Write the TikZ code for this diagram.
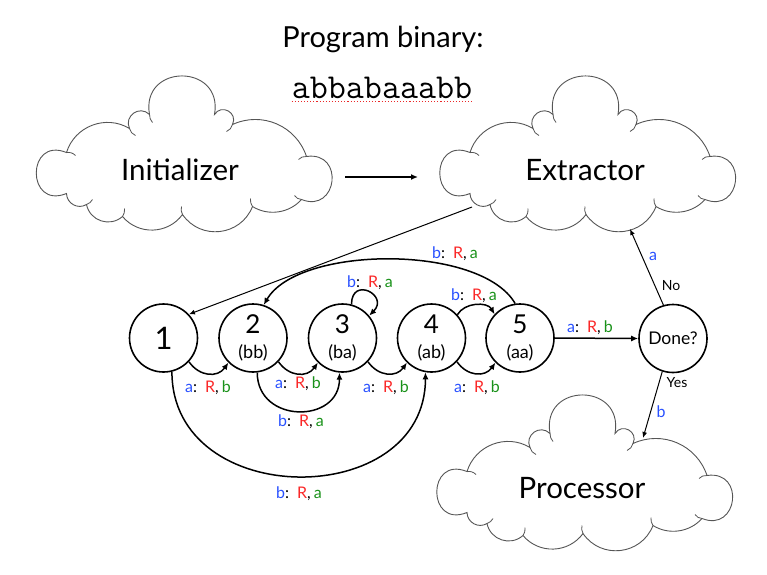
\documentclass[tikz,border=0pt]{standalone}
\usepackage{fontspec}
\setmainfont{Lato}
\usetikzlibrary{arrows.meta}
\definecolor{cb}{RGB}{40,80,255}
\definecolor{cr}{RGB}{250,40,40}
\definecolor{cg}{RGB}{25,145,25}
\definecolor{cloudgray}{RGB}{85,85,85}
\definecolor{spellred}{RGB}{235,40,40}
\newcommand{\trlab}[2]{\textcolor{cb}{#1}:\hspace{0.5em}\textcolor{cr}{R},\hspace{0.2em}\textcolor{cg}{#2}}
\tikzset{
 cloudline/.style={draw=cloudgray, line width=0.9pt, fill=white},
 cloudhook/.style={draw=cloudgray, line width=0.8pt},
 cloudpic/.pic={
  \draw[cloudline] (-115,-4) to[bend left=52,looseness=1.05] (-52,-28)
   to[bend left=80,looseness=1.45] (-32,-42)
   to[bend left=100,looseness=2.06] (33,-42)
   to[bend left=87,looseness=1.62] (51,-32)
   to[bend left=48,looseness=1.03] (125,0)
   to[bend left=105,looseness=2.3] (120,43)
   to[bend left=40,looseness=0.96] (71,50)
   to[bend left=62,looseness=1.16] (1,58)
   to[bend left=52,looseness=1.05] (-59,60)
   to[bend left=60,looseness=1.13] (-95,48)
   to[bend left=60,looseness=1.13] (-115,37)
   to[bend left=112,looseness=2.72] (-115,-4) -- cycle;
  \draw[cloudhook] (-115,-4) to[bend left=25] (-106,-1);
  \draw[cloudhook] (-52,-28) to[bend right=25] (-46,-21);
  \draw[cloudhook] (-32,-42) to[bend right=20] (-29,-34);
  \draw[cloudhook] (51,-32) to[bend left=25] (45,-25);
  \draw[cloudhook] (125,0) to[bend right=25] (117,3);
  \draw[cloudhook] (120,43) to[bend left=25] (113,39);
  \draw[cloudhook] (71,50) to[bend left=20] (69,42);
  \draw[cloudhook] (1,58) to[bend left=20] (0,50);
  \draw[cloudhook] (-59,60) to[bend right=20] (-57,52);
  \draw[cloudhook] (-95,48) to[bend right=20] (-89,43);
 },
 cloudbox/.style={inner sep=0pt, minimum width=300pt, minimum height=157pt},
 cloudtext/.style={font=\fontsize{29.5}{32}\selectfont, inner sep=0pt, anchor=base},
 state/.style={circle, draw, line width=1.6pt, minimum size=68pt, inner sep=0pt, align=center, font=\fontsize{18}{25}\selectfont},
 lbl/.style={font=\fontsize{16}{18}\selectfont, inner sep=1pt},
 tr/.style={-{Latex[length=7pt,width=6pt]}, line width=1.5pt},
 thinarrow/.style={-{Latex[length=6pt,width=5pt]}, line width=1pt},
}
\begin{document}
\begin{tikzpicture}[x=1pt,y=-1pt]
\useasboundingbox (0,0) rectangle (767,574);
% title
\node[font=\fontsize{29}{32}\selectfont, inner sep=0pt, anchor=base] (title) at (383,47) {Program binary:};
\node[font=\ttfamily\fontsize{35}{36}\selectfont, inner sep=0pt, anchor=base] (bin) at (382,98) {abbabaaabb};
\draw[spellred, dotted, line width=1.1pt] ([yshift=-3.5pt]bin.base west) -- ([yshift=-3.5pt]bin.base east);
% clouds
\node[cloudbox] (ini) at (181.5,156.5) {};
\pic at (181.5,156.5) {cloudpic};
\node[cloudtext] (initxt) at (180,180) {Initializer};
\node[cloudbox] (ext) at (585,156.5) {};
\pic at (585,156.5) {cloudpic};
\node[cloudtext] (exttxt) at (585,180) {Extractor};
\node[cloudbox] (proc) at (582,475.5) {};
\pic at (582,475.5) {cloudpic};
\node[cloudtext] (proctxt) at (582,498) {Processor};
\draw[tr] ([shift={(163.5,20.5)}]ini.center) -- ([shift={(-167,20.5)}]ext.center);
% states
\node[state] (s1) at (163.5,338) {\fontsize{31}{31}\selectfont 1};
\node[state] (s2) at (253,338) {{\fontsize{26}{26}\selectfont 2}\\(bb)};
\node[state] (s3) at (342.5,338) {{\fontsize{26}{26}\selectfont 3}\\(ba)};
\node[state] (s4) at (431.5,338) {{\fontsize{26}{26}\selectfont 4}\\(ab)};
\node[state] (s5) at (520,338) {{\fontsize{26}{26}\selectfont 5}\\(aa)};
\node[state, font=\fontsize{17.5}{20}\selectfont] (done) at (673,338.5) {Done?};
% transitions
\draw[tr] (s1.-43) to[out=-55,in=-125,looseness=1.2] (s2.-135);
\draw[tr] (s2.-43) to[out=-55,in=-125,looseness=1.2] (s3.-135);
\draw[tr] (s3.-43) to[out=-55,in=-125,looseness=1.2] (s4.-135);
\draw[tr] (s4.-43) to[out=-55,in=-125,looseness=1.2] (s5.-135);
\draw[tr] (s2.-83) to[out=-90,in=-90,looseness=1.6] (s3.-95);
\draw[tr] (s1.-76) to[out=-90,in=-90,looseness=1.4] (s4.-100);
\draw[tr] (s5.98) to[out=120,in=60,looseness=0.7] (s2.72);
\draw[tr] (s3.75) to[out=90,in=45,looseness=3.5] (s3.40);
\draw[tr] (s4.42) to[out=60,in=120,looseness=1] (s5.137);
\draw[tr] (s5.east) -- (done.west);
\draw[thinarrow] ([shift={(-113,50.5)}]ext.center) -- (s1.43);
\draw[thinarrow] (done.106) -- ([shift={(45,72.5)}]ext.center);
\draw[thinarrow] (done.-108) -- ([shift={(61,-37.5)}]proc.center);
% labels
\node[lbl] (l12) at (208,388) {\trlab{a}{b}};
\node[lbl] (l23) at (298,384) {\trlab{a}{b}};
\node[lbl] (l34) at (386,388) {\trlab{a}{b}};
\node[lbl] (l45) at (477,388) {\trlab{a}{b}};
\node[lbl] (l23b) at (301,422) {\trlab{b}{a}};
\node[lbl] (l14) at (299,494) {\trlab{b}{a}};
\node[lbl] (l52) at (455,254) {\trlab{b}{a}};
\node[lbl] (l33) at (370,283) {\trlab{b}{a}};
\node[lbl] (l45t) at (474,296) {\trlab{b}{a}};
\node[lbl] (l5d) at (590,328) {\trlab{a}{b}};
\node[lbl, text=cb] (la) at (653,256) {a};
\node[lbl, font=\fontsize{14}{16}\selectfont] (lno) at (671,286) {No};
\node[lbl, font=\fontsize{14}{16}\selectfont] (lyes) at (677,383) {Yes};
\node[lbl, text=cb] (lb) at (661,412) {b};
\end{tikzpicture}
\end{document}
